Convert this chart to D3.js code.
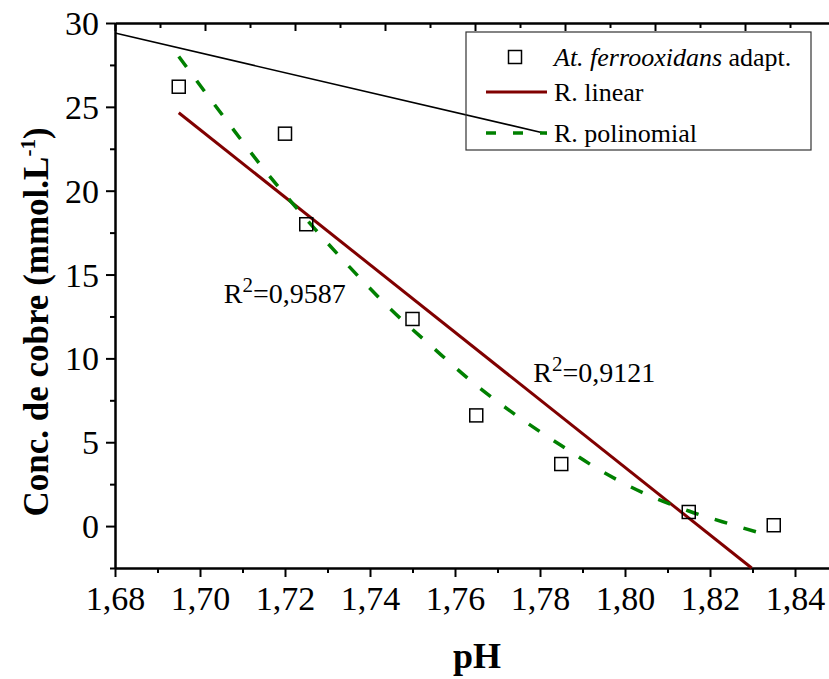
<!DOCTYPE html>
<html lang="pt">
<head>
<meta charset="utf-8">
<title>Conc. de cobre vs pH</title>
<script src="https://d3js.org/d3.v7.min.js"></script>
<style>
  body { margin: 0; background: #fff; }
  svg text { font-family: "Liberation Serif", "Times New Roman", Times, serif; fill: #000; }
</style>
</head>
<body>
<svg id="chart"></svg>
<script>

// data
var pH      = [1.695, 1.720, 1.725, 1.750, 1.765, 1.785, 1.815, 1.835];
var cobre   = [26.2, 23.4, 18.0, 12.35, 6.6, 3.7, 0.84, 0.05];

// linear fit, drawn until it meets the bottom axis
var linX = [1.695, 1.8298];
var linY = [24.65, -2.5];

// polynomial fit (dashed), sampled off the curve
var polyX = [1.695, 1.705, 1.715, 1.725, 1.735, 1.745, 1.755, 1.765, 1.775, 1.785, 1.795, 1.805, 1.815, 1.825, 1.833];
var polyY = [28.0, 24.6, 21.3, 18.3, 15.5, 12.9, 10.6, 8.4, 6.5, 4.8, 3.2, 1.9, 0.9, 0.1, -0.5];

// stray black line in the top left of the original
var strayX = [1.68, 1.7816];
var strayY = [29.4, 23.4];

var xMajor = [1.68, 1.70, 1.72, 1.74, 1.76, 1.78, 1.80, 1.82, 1.84];
var yMajor = [0, 5, 10, 15, 20, 25, 30];

var r2Labels = [
  {x: 1.7056, y: 13.3, text: "0,9587"},
  {x: 1.7784, y: 8.6, text: "0,9121"}
];

var w = 829, h = 679;
var margin = {top: 23, left: 115, bottom: 111};

var svg = d3.select("#chart")
    .attr("width", w)
    .attr("height", h);

var x = d3.scaleLinear()
    .domain([1.68, 1.85])
    .range([margin.left, margin.left + 42.5 * 17]);

// top axis of the original is on its own, slightly wider scale
var xTop = d3.scaleLinear()
    .domain([1.68, 1.84])
    .range([margin.left, margin.left + 45 * 16]);

var y = d3.scaleLinear()
    .domain([-2.5, 30])
    .range([h - margin.bottom, margin.top]);

var comma = d3.formatLocale({decimal: ",", thousands: ".", grouping: [3], currency: ["", ""]});
var fmtX = comma.format(".2f");

var xMinor = d3.range(1.69, 1.851, 0.02).map(d => +d.toFixed(2));
var yMinor = [-2.5, 2.5, 7.5, 12.5, 17.5, 22.5, 27.5];

var serif = '"Liberation Serif", "Times New Roman", Times, serif';

// ---- axes
var bottom = svg.append("g")
    .attr("class", "xAxis")
    .attr("transform", `translate(0, ${y(-2.5)})`);

bottom.call(d3.axisBottom(x).tickValues(xMajor).tickSize(9).tickSizeOuter(0).tickFormat(fmtX));
bottom.append("g").call(d3.axisBottom(x).tickValues(xMinor).tickSize(5).tickSizeOuter(0).tickFormat(""));

var left = svg.append("g")
    .attr("class", "yAxis")
    .attr("transform", `translate(${x(1.68)}, 0)`);

left.call(d3.axisLeft(y).tickValues(yMajor).tickSize(9).tickSizeOuter(0).tickFormat(d3.format("d")));
left.append("g").call(d3.axisLeft(y).tickValues(yMinor).tickSize(5).tickSizeOuter(0).tickFormat(""));

var topAx = svg.append("g")
    .attr("transform", `translate(0, ${y(30)})`);

var topMajor = d3.range(1.68, 1.841, 0.02).map(d => +d.toFixed(2));
var topMinor = d3.range(1.69, 1.841, 0.02).map(d => +d.toFixed(2));
topAx.call(d3.axisBottom(xTop).tickValues(topMajor).tickSize(8).tickSizeOuter(0).tickFormat(""));
topAx.append("g").call(d3.axisBottom(xTop).tickValues(topMinor).tickSize(5).tickSizeOuter(0).tickFormat(""));

svg.selectAll("g").attr("font-family", serif);

svg.selectAll(".domain, .tick line")
    .attr("stroke", "#000")
    .attr("stroke-width", 2);

// baseline of x labels sits at y = 610
bottom.selectAll(".tick text")
    .attr("y", 42)
    .attr("dy", 0)
    .style("font-size", "34px");

left.selectAll(".tick text")
    .attr("x", -16)
    .attr("dy", "0.34em")
    .style("font-size", "34px");

// ---- axis titles
svg.append("text")
    .attr("x", 477)
    .attr("y", 668)
    .attr("text-anchor", "middle")
    .style("font-size", "36px")
    .style("font-weight", "bold")
    .text("pH");

var yTitle = svg.append("text")
    .attr("transform", "translate(48, 322) rotate(-90)")
    .attr("text-anchor", "middle")
    .style("font-size", "35px")
    .style("font-weight", "bold");
yTitle.append("tspan").text("Conc. de cobre (mmol.L");
yTitle.append("tspan").attr("dy", -13).style("font-size", "21px").text("-1");
yTitle.append("tspan").attr("dy", 13).text(")");

// ---- lines
var line = d3.line().x(d => x(d[0])).y(d => y(d[1]));

svg.append("path")
    .datum(d3.zip(strayX, strayY))
    .attr("d", line)
    .attr("fill", "none")
    .attr("stroke", "#000")
    .attr("stroke-width", 1.6);

svg.append("path")
    .datum(d3.zip(linX, linY))
    .attr("d", line)
    .attr("fill", "none")
    .attr("stroke", "#800000")
    .attr("stroke-width", 3);

svg.append("path")
    .datum(d3.zip(polyX, polyY))
    .attr("d", line.curve(d3.curveMonotoneX))
    .attr("fill", "none")
    .attr("stroke", "#008000")
    .attr("stroke-width", 3.5)
    .attr("stroke-dasharray", "13,17");

// ---- points
var sq = 13;
svg.append("g")
  .selectAll("rect")
    .data(d3.zip(pH, cobre))
  .enter().append("rect")
    .attr("x", d => x(d[0]) - sq / 2)
    .attr("y", d => y(d[1]) - sq / 2)
    .attr("width", sq)
    .attr("height", sq)
    .attr("fill", "none")
    .attr("stroke", "#000")
    .attr("stroke-width", 1.5);

// ---- R² labels
r2Labels.forEach(function(r) {
  var t = svg.append("text")
      .attr("x", x(r.x))
      .attr("y", y(r.y))
      .style("font-size", "28px");
  t.append("tspan").text("R");
  t.append("tspan").attr("dy", -11).style("font-size", "21px").text("2");
  t.append("tspan").attr("dy", 11).text("=" + r.text);
});

// ---- legend
var lg = svg.append("g");
lg.append("rect")
    .attr("x", 466).attr("y", 32)
    .attr("width", 345).attr("height", 118)
    .attr("fill", "none")
    .attr("stroke", "#333")
    .attr("stroke-width", 1.2);

lg.append("rect")
    .attr("x", 515 - 6.5).attr("y", 57 - 6.5)
    .attr("width", 13).attr("height", 13)
    .attr("fill", "none").attr("stroke", "#000").attr("stroke-width", 1.5);

var t1 = lg.append("text").attr("x", 554).attr("y", 66).style("font-size", "26px");
t1.append("tspan").style("font-style", "italic").text("At. ferrooxidans");
t1.append("tspan").text(" adapt.");

lg.append("line")
    .attr("x1", 486).attr("x2", 547).attr("y1", 92).attr("y2", 92)
    .attr("stroke", "#800000").attr("stroke-width", 3);
lg.append("text").attr("x", 554).attr("y", 101).style("font-size", "26px").text("R. linear");

lg.append("line")
    .attr("x1", 486).attr("x2", 547).attr("y1", 133).attr("y2", 133)
    .attr("stroke", "#008000").attr("stroke-width", 3.5)
    .attr("stroke-dasharray", "10,17");
lg.append("text").attr("x", 554).attr("y", 142).style("font-size", "26px").text("R. polinomial");

</script>
</body>
</html>
